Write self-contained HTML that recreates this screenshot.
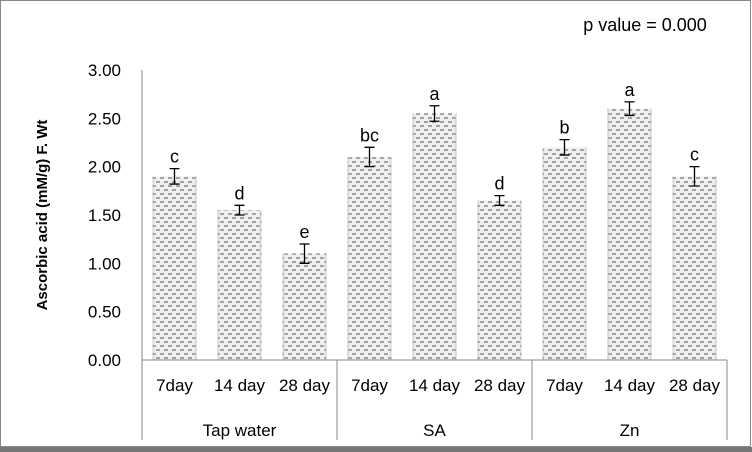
<!DOCTYPE html>
<html><head><meta charset="utf-8"><style>
body{margin:0;background:#fff;}
svg{display:block;font-family:"Liberation Sans",Calibri,sans-serif;}
</style></head><body>
<svg id="chart" width="752" height="452">
<defs>
<pattern id="dash" width="8" height="8" patternUnits="userSpaceOnUse">
<rect width="8" height="8" fill="#f0f0f0"/>
<line x1="0" y1="2" x2="4" y2="2" stroke="#555" stroke-width="1"/>
<line x1="4" y1="6" x2="8" y2="6" stroke="#555" stroke-width="1"/>
</pattern>
<linearGradient id="edge" x1="0" x2="1">
<stop offset="0" stop-color="#999" stop-opacity="0.5"/><stop offset="0.08" stop-color="#fff" stop-opacity="0"/>
<stop offset="0.92" stop-color="#fff" stop-opacity="0"/><stop offset="1" stop-color="#999" stop-opacity="0.5"/>
</linearGradient>
</defs>
<rect x="0.5" y="0.5" width="750" height="446" fill="#fff" stroke="#888"/>
<rect x="0" y="447" width="752" height="5" fill="#777"/>
<text x="645" y="31" font-size="18" text-anchor="middle" fill="#000">p value = 0.000</text>
<text transform="translate(47,215) rotate(-90)" font-size="15" font-weight="bold" text-anchor="middle">Ascorbic acid (mM/g) F. Wt</text>
<g id="yaxis"></g><g id="bars"></g><g id="xaxis"></g>
</svg>
<script>
const days = ["7day","14 day","28 day","7day","14 day","28 day","7day","14 day","28 day"];
const groups = ["Tap water","SA","Zn"];
const values = [1.9,1.55,1.1,2.1,2.55,1.65,2.2,2.6,1.9];
const errors = [0.08,0.05,0.1,0.1,0.08,0.05,0.08,0.07,0.1];
const letters = ["c","d","e","bc","a","d","b","a","c"];
const yTicks = [0,0.5,1,1.5,2,2.5,3];
const ns="http://www.w3.org/2000/svg";
const X0=142, W=65, Y0=360, PPU=96.67;
const y=v=>Y0-v*PPU, x=i=>X0+W*i+W/2;
function el(t,a,p){const e=document.createElementNS(ns,t);for(const k in a)e.setAttribute(k,a[k]);document.getElementById(p).appendChild(e);return e;}
yTicks.forEach(t=>{
 const tx=el('text',{x:121,y:y(t)+6,'font-size':17,'text-anchor':'end'},'yaxis');tx.textContent=t.toFixed(2);
 
 
});
const ax=el('line',{x1:X0,y1:y(3),x2:X0,y2:Y0,stroke:'#888'},'yaxis');


values.forEach((v,i)=>{
 const bw=44,cx=x(i);
 const r=el('rect',{x:cx-bw/2,y:y(v),width:bw,height:Y0-y(v),fill:'url(#dash)'},'bars');
 
 
 el('rect',{x:cx-bw/2,y:y(v),width:bw,height:Y0-y(v),fill:'url(#edge)'},'bars');
 const e=errors[i],t=y(v+e),b=y(v-e);
 const eb=el('path',{d:`M${cx} ${t}V${b}M${cx-5} ${t}H${cx+5}M${cx-5} ${b}H${cx+5}`,stroke:'#000','stroke-width':1.3,fill:'none'},'bars');
 
 
 const l=el('text',{x:cx,y:t-6,'font-size':18,'text-anchor':'middle'},'bars');l.textContent=letters[i];
 
 
 const d=el('text',{x:cx,y:391,'font-size':17,'text-anchor':'middle'},'xaxis');d.textContent=days[i];
 
 
});
const bl=el('line',{x1:X0,y1:Y0,x2:X0+W*9,y2:Y0,stroke:'#888'},'xaxis');


for(let g=0;g<=3;g++){
 const s=el('line',{x1:X0+W*3*g,y1:Y0,x2:X0+W*3*g,y2:440,stroke:'#888'},'xaxis');
 
 
}
groups.forEach((g,i)=>{
 const t=el('text',{x:X0+W*3*i+W*1.5,y:436,'font-size':17,'text-anchor':'middle'},'xaxis');t.textContent=g;
 
 
});
</script>
</body></html>
